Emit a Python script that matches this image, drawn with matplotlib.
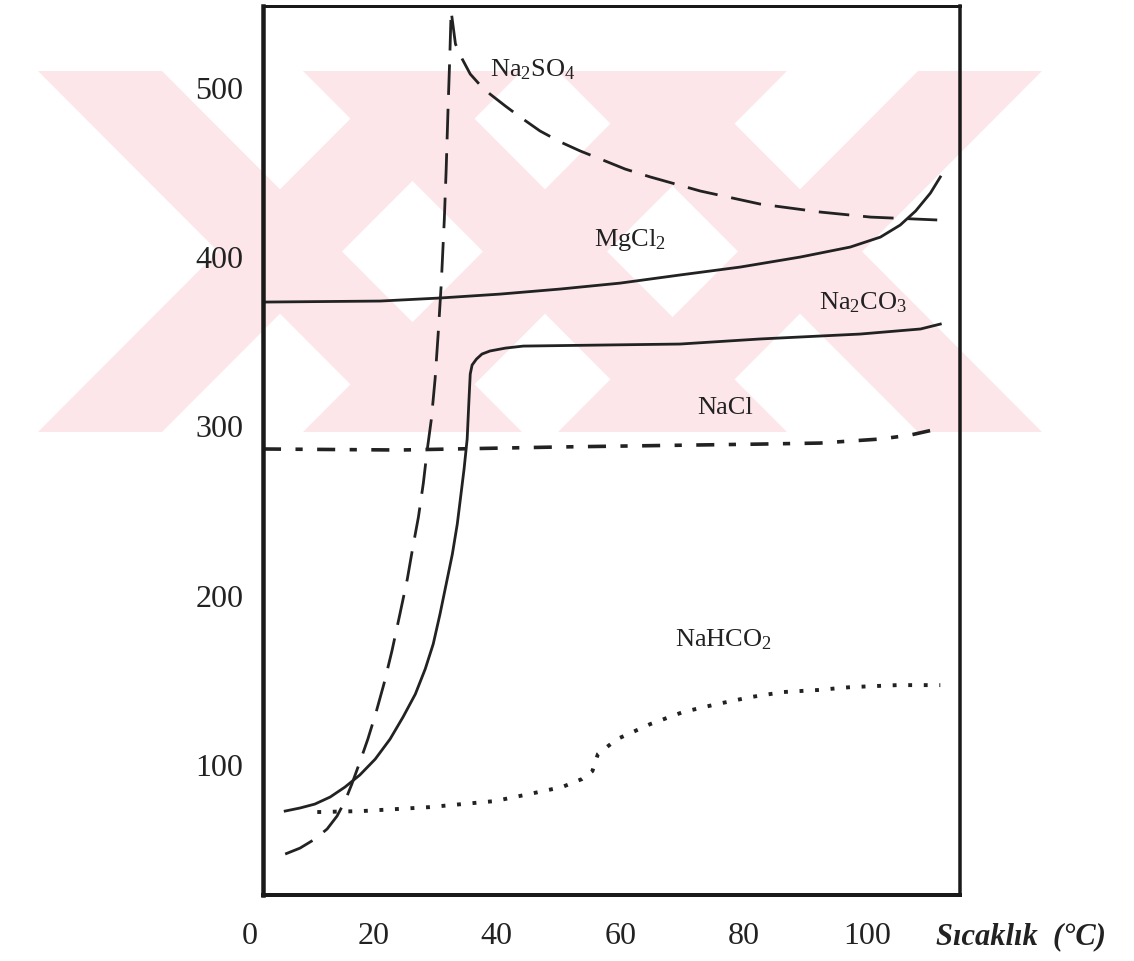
import matplotlib
matplotlib.use('Agg')
import matplotlib.pyplot as plt
import matplotlib.transforms as mtransforms
from matplotlib.patches import Polygon

plt.rcParams['font.family'] = 'Liberation Serif'
plt.rcParams['mathtext.fontset'] = 'custom'
plt.rcParams['mathtext.rm'] = 'Liberation Serif'
plt.rcParams['mathtext.it'] = 'Liberation Serif:italic'

# Çözünürlük eğrileri (sıcaklık °C, çözünürlük)
mgcl2_t = [2.1, 21.1, 30.8, 40.5, 50.3, 60.0, 69.7, 79.5, 89.2, 97.3, 102.2, 105.4,
           107.9, 110.3, 111.9]
mgcl2_s = [372.8, 373.4, 375.2, 377.5, 380.5, 384.0, 388.8, 393.5, 399.4, 405.3, 411.2,
           418.3, 426.6, 437.2, 446.7]

na2co3_t = [5.7, 8.1, 10.5, 13.0, 15.4, 17.8, 20.3, 22.7, 24.8, 26.8, 28.4, 29.7, 30.8,
            31.8, 32.8, 33.6, 34.2, 34.7, 35.2, 35.5, 35.7, 36.0, 36.7, 37.6, 38.9, 41.4,
            44.3, 56.8, 69.7, 82.7, 98.9, 108.7, 111.9]
na2co3_s = [72.1, 73.9, 76.2, 80.4, 86.3, 93.4, 102.8, 114.6, 127.6, 141.2, 156.0, 170.8,
            188.5, 206.2, 223.9, 241.7, 259.4, 274.2, 291.9, 315.5, 330.3, 335.6, 339.1,
            342.1, 343.9, 345.6, 346.8, 347.4, 348.0, 351.0, 353.9, 356.9, 359.8]

na2so4_t = [5.7, 8.1, 10.5, 12.5, 14.1, 15.4, 16.5, 17.8, 19.1, 20.4, 21.7, 23.0, 24.3,
            25.5, 26.4, 27.3, 28.1, 28.7, 29.4, 30.0, 30.5, 31.0, 31.5, 31.8, 32.1, 32.4,
            32.6, 33.3, 34.4, 35.7, 37.3, 38.9, 41.4, 43.8, 47.0, 50.3, 53.5, 56.8, 60.8,
            64.9, 73.0, 82.7, 92.4, 100.6, 111.4]
na2so4_s = [46.7, 50.2, 55.5, 61.5, 69.1, 78.0, 88.0, 101.0, 114.6, 130.0, 147.1, 166.6,
            188.5, 209.2, 228.1, 245.8, 265.9, 284.8, 303.7, 327.3, 353.9, 383.5, 421.9,
            451.4, 486.9, 519.4, 544.8, 525.3, 516.4, 507.5, 501.0, 495.7, 488.6, 482.1,
            473.9, 467.4, 462.1, 457.3, 451.4, 446.7, 438.4, 430.7, 426.0, 423.0, 421.3]

nacl_t = [2.1, 24.3, 50.3, 82.7, 92.4, 102.2, 107.0, 111.4]
nacl_s = [286.0, 285.4, 287.2, 288.9, 289.5, 291.9, 294.2, 297.8]

nahco3_t = [10.9, 18.2, 29.0, 39.7, 45.2, 50.6, 53.8, 55.5, 56.4, 59.5, 64.9, 70.2, 75.7,
            81.1, 86.4, 92.0, 97.3, 104.9, 111.9]
nahco3_s = [71.5, 72.1, 74.4, 78.0, 82.1, 86.3, 91.0, 95.7, 105.8, 114.6, 123.5, 130.6,
            135.3, 139.4, 142.4, 143.6, 145.3, 146.5, 146.5]

x_ticks = [0, 20, 40, 60, 80, 100]
y_ticks = [100, 200, 300, 400, 500]

fig = plt.figure(figsize=(11.34, 9.62), dpi=100)
ax = fig.add_axes([0.2319, 0.0686, 0.6147, 0.9241])
ax.patch.set_alpha(0)

# soluk kırmızı filigran (arka plan)
pink = '#fce6ea'
band_top, band_bot = 1 - 72 / 962, 1 - 433 / 962
for cx in [280, 545, 800]:
    c = cx / 1134
    dx = 180 / 1134
    w = 62 / 1134
    for sgn in (1, -1):
        pts = [(c - sgn * dx - w, band_top), (c - sgn * dx + w, band_top),
               (c + sgn * dx + w, band_bot), (c + sgn * dx - w, band_bot)]
        fig.patches.append(Polygon(pts, closed=True, transform=fig.transFigure,
                                   facecolor=pink, edgecolor='none', zorder=-5))

lw = 2.0
ink = '#222222'
ax.plot(mgcl2_t, mgcl2_s, color=ink, lw=lw)
ax.plot(na2co3_t, na2co3_s, color=ink, lw=lw)
ax.plot(na2so4_t, na2so4_s, color=ink, lw=lw, dashes=(11, 5))
ax.plot(nacl_t, nacl_s, color=ink, lw=lw + 0.6, dashes=(5, 4, 2, 4))
ax.plot(nahco3_t, nahco3_s, color=ink, lw=lw + 0.8, dashes=(1, 3))

lab = dict(fontsize=19, color=ink)
ax.text(38.9, 510.5, r'$\mathrm{Na_2SO_4}$', ha='left', va='center', **lab)
ax.text(61.6, 410, r'$\mathrm{MgCl_2}$', ha='center', va='center', **lab)
ax.text(99.4, 372.8, r'$\mathrm{Na_2CO_3}$', ha='center', va='center', **lab)
ax.text(77.0, 310.8, 'NaCl', ha='center', va='center', **lab)
ax.text(76.7, 173.7, r'$\mathrm{NaHCO_2}$', ha='center', va='center', **lab)

ax.set_xlim(2.1, 115.1)
ax.set_ylim(22.5, 547.7)
ax.set_xticks([])
ax.set_yticks(y_ticks)
ax.set_yticklabels([str(v) for v in y_ticks], fontsize=23, color=ink)
ax.tick_params(axis='y', length=0, pad=14)

trans = mtransforms.blended_transform_factory(ax.transData, fig.transFigure)
for v in x_ticks:
    ax.text(v, 1 - 937 / 962, str(v), transform=trans, ha='center', va='center',
            fontsize=23, color=ink, clip_on=False)
ax.text(1021 / 1134, 1 - 937 / 962, 'Sıcaklık  (°C)', transform=fig.transFigure,
        ha='center', va='center', fontsize=22, fontweight='bold', style='italic', color=ink)

for side, w in [('left', 4.5), ('bottom', 4), ('top', 3), ('right', 3.5)]:
    ax.spines[side].set_linewidth(w * 0.72)
    ax.spines[side].set_color('#1a1a1a')

fig.savefig('out.png', dpi=100)
